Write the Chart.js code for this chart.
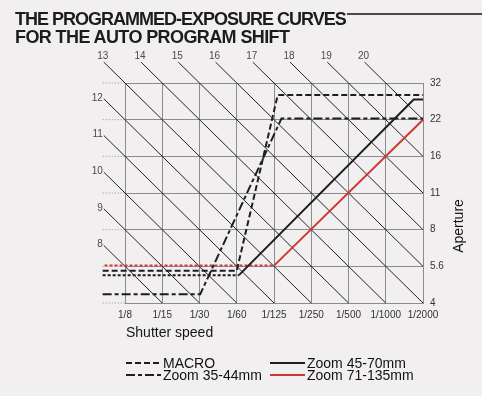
<!DOCTYPE html>
<html>
<head>
<meta charset="utf-8">
<script src="https://cdn.jsdelivr.net/npm/chart.js@4.4.0/dist/chart.umd.min.js"></script>
<style>
    html, body { margin: 0; padding: 0; background: #f2eff0; }
    #wrap { position: relative; width: 482px; height: 396px; overflow: hidden; font-family: "Liberation Sans", Arial, sans-serif; color: #161616; }
    #chart { position: absolute; left: 0; top: 0; }
    .title-row { position: absolute; left: 15px; right: 0; display: flex; align-items: flex-start; }
    .title { margin: 0; font-size: 18px; line-height: 18px; font-weight: bold; white-space: nowrap; color: #1c1c1c; }
    .rule { flex: 1; height: 2px; margin-top: 3px; margin-left: 1px; background: #4a4a4a; }
    .axis-title { position: absolute; font-size: 14px; line-height: 16px; white-space: nowrap; color: #151515; }
    #legend .item { position: absolute; font-size: 14px; line-height: 14px; white-space: nowrap; color: #111; }
    #legend svg { position: absolute; }
</style>
</head>
<body>
<div id="wrap">
    <canvas id="chart" width="482" height="396"></canvas>
    <div class="title-row" style="top:10px;">
        <h1 class="title" style="letter-spacing:-1px;">THE PROGRAMMED-EXPOSURE CURVES</h1>
        <div class="rule"></div>
    </div>
    <div class="title-row" style="top:28px;">
        <h1 class="title" style="letter-spacing:-0.6px;">FOR THE AUTO PROGRAM SHIFT</h1>
    </div>
    <div class="axis-title" style="left:126px; top:324px;">Shutter speed</div>
    <div class="axis-title" style="left:428px; top:218px; width:60px; text-align:center; transform:rotate(-90deg);">Aperture</div>
    <div id="legend"></div>
</div>
<script>
// Ejes: posiciones en pasos (stops) desde 1/8 y desde f/4
const shutterLabels = ['1/8', '1/15', '1/30', '1/60', '1/125', '1/250', '1/500', '1/1000', '1/2000'];
const apertureLabels = ['4', '5.6', '8', '11', '16', '22', '32'];

// Líneas de EV (diagonales)
const evLeft = [8, 9, 10, 11, 12];
const evTop = [13, 14, 15, 16, 17, 18, 19, 20];
const EV_OFFSET = 7;   // 1/8 s a f/4 = EV 7
const EXT = 0.57;      // cuánto salen las líneas fuera de la rejilla

// Curvas [paso de velocidad, paso de diafragma]
const macroCurve = [[-0.6, 0.88], [3.0, 0.88], [4.1, 5.67], [8, 5.67]];
const zoom3544Curve = [[-0.6, 0.24], [2.02, 0.24], [4.2, 5.03], [8, 5.03]];
const zoom4570Curve = [[-0.6, 0.76], [3.06, 0.76], [7.75, 5.55], [8, 5.55]];
const zoom71135Curve = [[-0.55, 1.02], [4.0, 1.02], [8, 5.0]];

const series = [
    { label: 'MACRO', data: macroCurve, color: '#1d1d1d', dash: [6, 3], col: 0, row: 0 },
    { label: 'Zoom 45-70mm', data: zoom4570Curve, color: '#1d1d1d', dash: [], col: 1, row: 0 },
    { label: 'Zoom 35-44mm', data: zoom3544Curve, color: '#1d1d1d', dash: [9, 3, 4, 3], col: 0, row: 1 },
    { label: 'Zoom 71-135mm', data: zoom71135Curve, color: '#cf3832', dash: [], col: 1, row: 1 }
];

const GRID = '#8c8c8c';
const TICK_FONT = { family: 'Liberation Sans', size: 10 };

function evLine(ev) {
    const s = ev - EV_OFFSET;
    const start = s <= 6 ? { x: -EXT, y: s + EXT } : { x: s - 6 - EXT, y: 6 + EXT };
    const end = s <= 8 ? { x: s, y: 0 } : { x: 8, y: s - 8 };
    return [start, end];
}

const datasets = [];

series.forEach(s => {
    datasets.push({
        label: s.label,
        data: s.data.map(([x, y]) => ({ x, y })),
        borderColor: s.color,
        borderWidth: 2,
        borderDash: s.dash,
        segment: s.dash.length ? {} : { borderDash: c => c.p0DataIndex === 0 ? [3, 2] : undefined },
        clip: false
    });
});

evLeft.concat(evTop).forEach(ev => {
    datasets.push({
        label: 'EV ' + ev,
        data: evLine(ev),
        borderColor: '#222',
        borderWidth: 1,
        clip: false
    });
});

// prolongación punteada de la rejilla a la izquierda
apertureLabels.forEach((a, j) => {
    datasets.push({
        label: 'f/' + a,
        data: [{ x: -0.6, y: j }, { x: 0, y: j }],
        borderColor: '#8a8a8a',
        borderWidth: 1,
        borderDash: [1, 2],
        clip: false
    });
});

// Etiquetas de EV en los extremos de las diagonales
const evLabelPlugin = {
    id: 'evLabels',
    afterDatasetsDraw(chart) {
        const { ctx, scales: { x, y } } = chart;
        ctx.save();
        ctx.fillStyle = '#4a4a4a';
        ctx.font = '10px "Liberation Sans"';
        evLeft.forEach(ev => {
            const p = evLine(ev)[0];
            ctx.textAlign = 'right';
            ctx.textBaseline = 'middle';
            ctx.fillText(String(ev), x.getPixelForValue(p.x) - 1, y.getPixelForValue(p.y) - 1);
        });
        evTop.forEach(ev => {
            const p = evLine(ev)[0];
            ctx.textAlign = 'center';
            ctx.textBaseline = 'middle';
            ctx.fillText(String(ev), x.getPixelForValue(p.x) - 1, y.getPixelForValue(p.y) - 6);
        });
        ctx.restore();
    }
};

new Chart(document.getElementById('chart'), {
    type: 'line',
    data: { datasets },
    options: {
        responsive: false,
        animation: false,
        layout: { padding: { left: 125, top: 83, right: 29, bottom: 73 } },
        plugins: { legend: { display: false }, tooltip: { enabled: false } },
        elements: { point: { radius: 0 }, line: { tension: 0 } },
        scales: {
            x: {
                type: 'linear', min: 0, max: 8, position: 'bottom',
                afterFit: s => { s.height = 20; },
                ticks: { stepSize: 1, autoSkip: false, maxRotation: 0, padding: 6, color: '#333', font: TICK_FONT, callback: v => shutterLabels[v] },
                grid: { color: GRID, lineWidth: 1, drawTicks: false },
                border: { color: GRID }
            },
            y: {
                type: 'linear', min: 0, max: 6, position: 'right',
                afterFit: s => { s.width = 30; },
                ticks: { stepSize: 1, padding: 7, color: '#333', font: TICK_FONT, callback: v => apertureLabels[v] },
                grid: { color: GRID, lineWidth: 1, drawTicks: false },
                border: { color: GRID }
            }
        }
    },
    plugins: [evLabelPlugin]
});

// Leyenda en dos columnas
const legend = document.getElementById('legend');
const colX = [126, 270];
const rowY = [363, 375];
series.forEach(s => {
    const x = colX[s.col], y = rowY[s.row];
    const svg = document.createElementNS('http://www.w3.org/2000/svg', 'svg');
    svg.setAttribute('width', 35);
    svg.setAttribute('height', 4);
    svg.style.left = x + 'px';
    svg.style.top = (y - 2) + 'px';
    const line = document.createElementNS('http://www.w3.org/2000/svg', 'line');
    line.setAttribute('x1', 0); line.setAttribute('y1', 2);
    line.setAttribute('x2', 35); line.setAttribute('y2', 2);
    line.setAttribute('stroke', s.color);
    line.setAttribute('stroke-width', 2);
    if (s.dash.length) line.setAttribute('stroke-dasharray', s.dash.join(' '));
    svg.appendChild(line);
    legend.appendChild(svg);

    const label = document.createElement('div');
    label.className = 'item';
    label.textContent = s.label;
    label.style.left = (x + 37) + 'px';
    label.style.top = (y - 7) + 'px';
    legend.appendChild(label);
});
</script>
</body>
</html>
